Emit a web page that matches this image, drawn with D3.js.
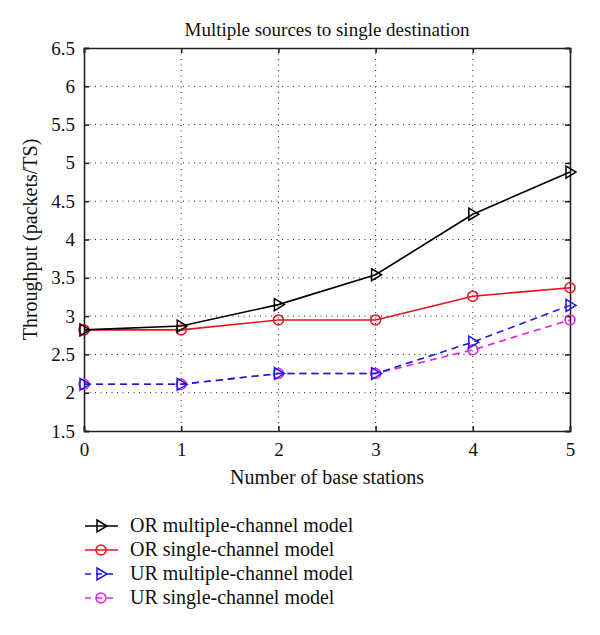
<!DOCTYPE html>
<html>
<head>
<meta charset="utf-8">
<script src="https://cdn.jsdelivr.net/npm/d3@7"></script>
<style>
body { margin: 0; background: #fff; }
svg text { font-family: "Liberation Serif", "DejaVu Serif", serif; fill: #111; }
svg .tick text { font-family: "Liberation Serif", serif !important; font-size: 19px !important; fill: #111 !important; }
</style>
</head>
<body>
<svg id="chart" width="600" height="635"></svg>
<script>
const xValues = [0, 1, 2, 3, 4, 5];
const orMultiple = [2.82, 2.87, 3.15, 3.54, 4.33, 4.88];
const orSingle = [2.82, 2.82, 2.95, 2.95, 3.26, 3.37];
const urMultiple = [2.11, 2.11, 2.25, 2.25, 2.66, 3.14];
const urSingle = [2.11, 2.11, 2.25, 2.25, 2.56, 2.95];
const xTicks = [0, 1, 2, 3, 4, 5];
const yTicks = [1.5, 2, 2.5, 3, 3.5, 4, 4.5, 5, 5.5, 6, 6.5];
const seriesNames = ["OR multiple-channel model", "OR single-channel model", "UR multiple-channel model", "UR single-channel model"];

const series = [
  { name: seriesNames[0], values: orMultiple, color: "#000000", dash: null, marker: "tri" },
  { name: seriesNames[1], values: orSingle, color: "#e8101a", dash: null, marker: "circle" },
  { name: seriesNames[2], values: urMultiple, color: "#1a1adf", dash: "7,5", marker: "tri" },
  { name: seriesNames[3], values: urSingle, color: "#e020e0", dash: "7,5", marker: "circle" }
];

const FONT = '"Liberation Serif", "DejaVu Serif", serif';
const svg = d3.select("#chart");
const L = 84, R = 570, T = 48, B = 431;
const x = d3.scaleLinear().domain([0, 5]).range([L, R]);
const y = d3.scaleLinear().domain([1.5, 6.5]).range([B, T]);

// grid
const grid = svg.append("g");
grid.selectAll("line.gx").data(xTicks.slice(1, -1)).join("line")
  .attr("x1", d => x(d)).attr("x2", d => x(d)).attr("y1", T).attr("y2", B)
  .attr("stroke", "#222").attr("stroke-width", 1).attr("stroke-dasharray", "1,4.5");
grid.selectAll("line.gy").data(yTicks.slice(1, -1)).join("line")
  .attr("x1", L).attr("x2", R).attr("y1", d => y(d)).attr("y2", d => y(d))
  .attr("stroke", "#222").attr("stroke-width", 1).attr("stroke-dasharray", "1,4.5");

// axes
const fmt = d => String(d);
const axB = svg.append("g").attr("transform", `translate(0,${B})`)
  .call(d3.axisBottom(x).tickValues(xTicks).tickSize(-5).tickPadding(12).tickFormat(fmt));
const axT = svg.append("g").attr("transform", `translate(0,${T})`)
  .call(d3.axisTop(x).tickValues(xTicks).tickSize(-5).tickFormat(""));
const axL = svg.append("g").attr("transform", `translate(${L},0)`)
  .call(d3.axisLeft(y).tickValues(yTicks).tickSize(-5).tickPadding(9).tickFormat(fmt));
const axR = svg.append("g").attr("transform", `translate(${R},0)`)
  .call(d3.axisRight(y).tickValues(yTicks).tickSize(-5).tickFormat(""));
[axB, axT, axL, axR].forEach(a => {
  a.attr("font-family", FONT).attr("font-size", 19);
  a.select(".domain").attr("stroke", "#222").attr("stroke-width", 1.6);
  a.selectAll(".tick line").attr("stroke", "#222").attr("stroke-width", 1.6);
  a.selectAll(".tick text").attr("font-family", FONT).attr("font-size", 19).attr("fill", "#111");
});

// lines
const line = d3.line().x((d, i) => x(xValues[i])).y(d => y(d));
const triPath = (cx, cy) => `M${cx - 4},${cy - 6}L${cx + 6},${cy}L${cx - 4},${cy + 6}Z`;
function drawMarker(g, cx, cy, s) {
  if (s.marker === "tri") {
    g.append("path").attr("d", triPath(cx, cy)).attr("fill", "none")
      .attr("stroke", s.color).attr("stroke-width", 1.5);
  } else {
    g.append("circle").attr("cx", cx).attr("cy", cy).attr("r", 5).attr("fill", "none")
      .attr("stroke", s.color).attr("stroke-width", 1.5);
  }
}
const order = [3, 2, 1, 0];
order.forEach(k => {
  const s = series[k];
  const g = svg.append("g");
  g.append("path").datum(s.values).attr("d", line).attr("fill", "none")
    .attr("stroke", s.color).attr("stroke-width", 1.6)
    .attr("stroke-dasharray", s.dash);
  s.values.forEach((v, i) => drawMarker(g, x(xValues[i]), y(v), s));
});

// title & labels
svg.append("text").attr("x", (L + R) / 2).attr("y", 36).attr("text-anchor", "middle")
  .style("font-size", "19px").text("Multiple sources to single destination");
svg.append("text").attr("x", (L + R) / 2).attr("y", 484).attr("text-anchor", "middle")
  .style("font-size", "20px").text("Number of base stations");
svg.append("text").attr("transform", `translate(37,${(T + B) / 2}) rotate(-90)`)
  .attr("text-anchor", "middle").style("font-size", "20px").text("Throughput (packets/TS)");

// legend
const lg = svg.append("g");
series.forEach((s, i) => {
  const cy = 526 + i * 24;
  lg.append("line").attr("x1", 85).attr("x2", 118).attr("y1", cy).attr("y2", cy)
    .attr("stroke", s.color).attr("stroke-width", 1.6).attr("stroke-dasharray", s.dash ? "6,5" : null);
  drawMarker(lg, 101, cy, s);
  lg.append("text").attr("x", 130).attr("y", cy + 6).style("font-size", "20px").text(s.name);
});
</script>
</body>
</html>
